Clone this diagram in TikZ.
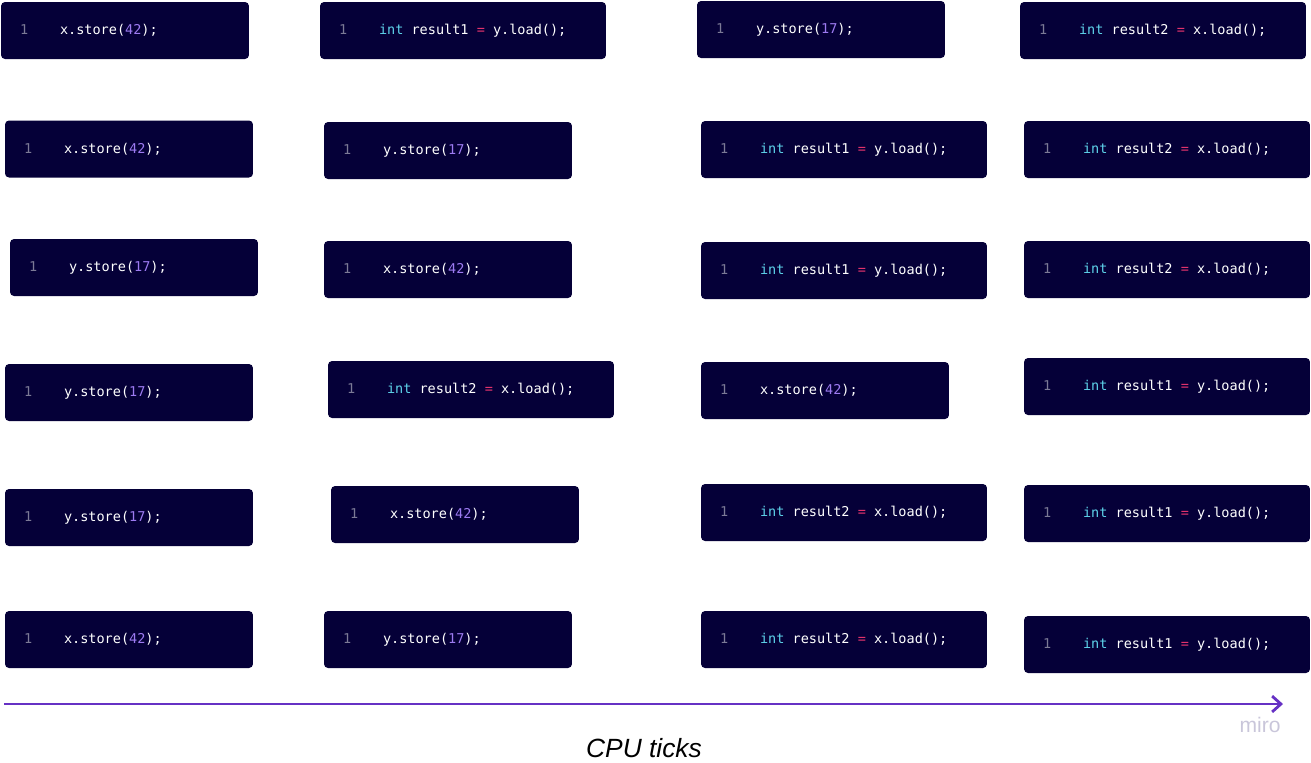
\documentclass[tikz,border=0pt]{standalone}
\usepackage{fontspec}
\setmonofont{DejaVu Sans Mono}
\setsansfont{Liberation Sans}
\usetikzlibrary{arrows.meta}
\definecolor{boxbg}{HTML}{050038}
\definecolor{lnum}{HTML}{7C7A96}
\definecolor{kw}{HTML}{5ED3EA}
\definecolor{op}{HTML}{E8346E}
\definecolor{num}{HTML}{9D7BF2}
\definecolor{tick}{HTML}{6631C4}
\definecolor{mirogrey}{HTML}{C9C6DA}
\newcommand{\lno}{\makebox[0.8cm][l]{\color{lnum}1}}
\newcommand{\gap}{\hphantom{x}}
\newcommand{\xstore}{\lno x.store(\textcolor{num}{42});}
\newcommand{\ystore}{\lno y.store(\textcolor{num}{17});}
\newcommand{\resone}{\lno\textcolor{kw}{int}\gap result1\gap\textcolor{op}{=}\gap y.load();}
\newcommand{\restwo}{\lno\textcolor{kw}{int}\gap result2\gap\textcolor{op}{=}\gap x.load();}
\begin{document}
\begin{tikzpicture}
  [x=0.02cm,y=-0.02cm,
   every node/.style={rectangle, rounded corners=0.08cm, fill=boxbg, text=white,
     font=\ttfamily\fontsize{7.7}{9}\selectfont, minimum height=1.14cm,
     inner xsep=0.38cm, inner ysep=0pt, align=left},
   shortbox/.style={text width=4.2cm},
   longbox/.style={text width=4.96cm}]
  \useasboundingbox (0,0) rectangle (1311,762);

  % order 1
  \node[shortbox] (a1) at (125,30.5)  {\xstore};
  \node[longbox]  (b1) at (463,30.5)  {\resone};
  \node[shortbox] (c1) at (821,29.5)  {\ystore};
  \node[longbox]  (d1) at (1163,30.5) {\restwo};
  % order 2
  \node[shortbox] (a2) at (129,149)   {\xstore};
  \node[shortbox] (b2) at (448,150.5) {\ystore};
  \node[longbox]  (c2) at (844,149.5) {\resone};
  \node[longbox]  (d2) at (1167,149.5) {\restwo};
  % order 3
  \node[shortbox] (a3) at (134,267.5) {\ystore};
  \node[shortbox] (b3) at (448,269.5) {\xstore};
  \node[longbox]  (c3) at (844,270.5) {\resone};
  \node[longbox]  (d3) at (1167,269.5) {\restwo};
  % order 4
  \node[shortbox] (a4) at (129,392.5) {\ystore};
  \node[longbox]  (b4) at (471,389.5) {\restwo};
  \node[shortbox] (c4) at (825,390.5) {\xstore};
  \node[longbox]  (d4) at (1167,386.5) {\resone};
  % order 5
  \node[shortbox] (a5) at (129,517.5) {\ystore};
  \node[shortbox] (b5) at (455,514.5) {\xstore};
  \node[longbox]  (c5) at (844,512.5) {\restwo};
  \node[longbox]  (d5) at (1167,513.5) {\resone};
  % order 6
  \node[shortbox] (a6) at (129,639.5) {\xstore};
  \node[shortbox] (b6) at (448,639.5) {\ystore};
  \node[longbox]  (c6) at (844,639.5) {\restwo};
  \node[longbox]  (d6) at (1167,644.5) {\resone};

  % time axis
  \coordinate (t0) at (4,704);
  \coordinate (t1) at (1283,704);
  \draw[tick, line width=1.6pt, -{Straight Barb[length=5pt,width=9pt]}] (t0) -- (t1);
  \node[fill=none, text=mirogrey, font=\sffamily\fontsize{12}{14}\selectfont,
    minimum height=0pt, inner sep=0pt] (miro) at (1260,725) {miro};
  \node[fill=none, text=black, font=\sffamily\itshape\fontsize{15}{18}\selectfont,
    minimum height=0pt, inner sep=0pt] (ticks) at (644,748) {CPU ticks};
\end{tikzpicture}
\end{document}
